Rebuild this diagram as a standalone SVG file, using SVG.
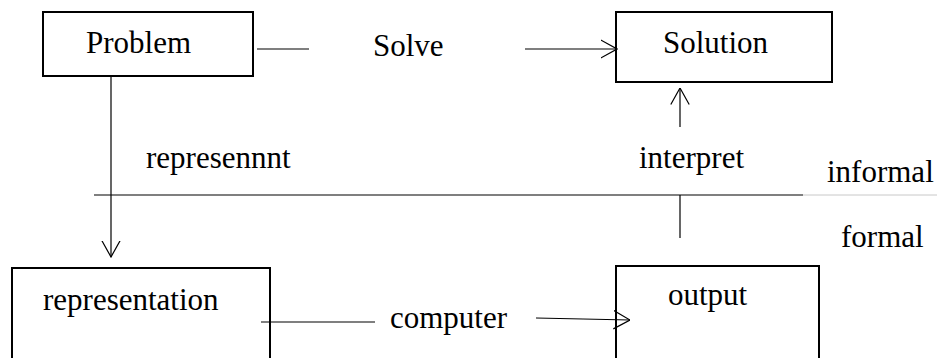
<svg xmlns="http://www.w3.org/2000/svg" width="937" height="358" viewBox="0 0 937 358">
  <style>
    .box { fill: #fff; stroke: #000; stroke-width: 2; }
    .lbl { font-size: 31px; fill: #000; }
    .ln { fill: none; stroke: #000; stroke-width: 1.2; }
  </style>
  <defs>
    <marker id="vee" viewBox="0 0 17 20" refX="16.5" refY="10" markerWidth="17" markerHeight="20" markerUnits="userSpaceOnUse" orient="auto">
      <path d="M0,0.8 L16.5,10 L0,19.2" fill="none" stroke="#000" stroke-width="1.2"/>
    </marker>
  </defs>

  <rect width="937" height="358" fill="#fff"/>

  <g font-family="'Liberation Serif', 'DejaVu Serif', serif">
  <g id="problem">
    <rect class="box" x="43" y="12" width="210" height="64"/>
    <text class="lbl" x="86" y="53">Problem</text>
  </g>

  <g id="solution">
    <rect class="box" x="616" y="12" width="216" height="70"/>
    <text class="lbl" x="663" y="53">Solution</text>
  </g>

  <g id="representation">
    <rect class="box" x="12" y="268" width="258" height="100"/>
    <text class="lbl" x="43" y="310">representation</text>
  </g>

  <g id="output">
    <rect class="box" x="616" y="266" width="203" height="102"/>
    <text class="lbl" x="668" y="305">output</text>
  </g>

  <g id="boundary">
    <line class="ln" x1="94" y1="195" x2="803" y2="195"/>
    <line x1="803" y1="195" x2="937" y2="195" stroke="#c8c8c8" stroke-width="1"/>
    <text class="lbl" x="827" y="182">informal</text>
    <text class="lbl" x="841" y="247">formal</text>
  </g>

  <g id="connectors">
    <!-- solve: Problem to Solution -->
    <line class="ln" x1="257" y1="49" x2="309" y2="49"/>
    <text class="lbl" x="373" y="56">Solve</text>
    <line class="ln" x1="525" y1="49" x2="617" y2="49" marker-end="url(#vee)"/>

    <!-- represent: Problem to representation -->
    <line class="ln" x1="111" y1="76" x2="111" y2="257" marker-end="url(#vee)"/>
    <text class="lbl" x="146" y="168">represennnt</text>

    <!-- compute: representation to output -->
    <line class="ln" x1="261" y1="322" x2="375" y2="322"/>
    <text class="lbl" x="390" y="328">computer</text>
    <line class="ln" x1="536" y1="318" x2="630" y2="320" marker-end="url(#vee)"/>

    <!-- interpret: output to Solution -->
    <line class="ln" x1="680" y1="238" x2="680" y2="195"/>
    <text class="lbl" x="639" y="168">interpret</text>
    <line class="ln" x1="680" y1="127" x2="680" y2="88" marker-end="url(#vee)"/>
  </g>
  </g>
</svg>
